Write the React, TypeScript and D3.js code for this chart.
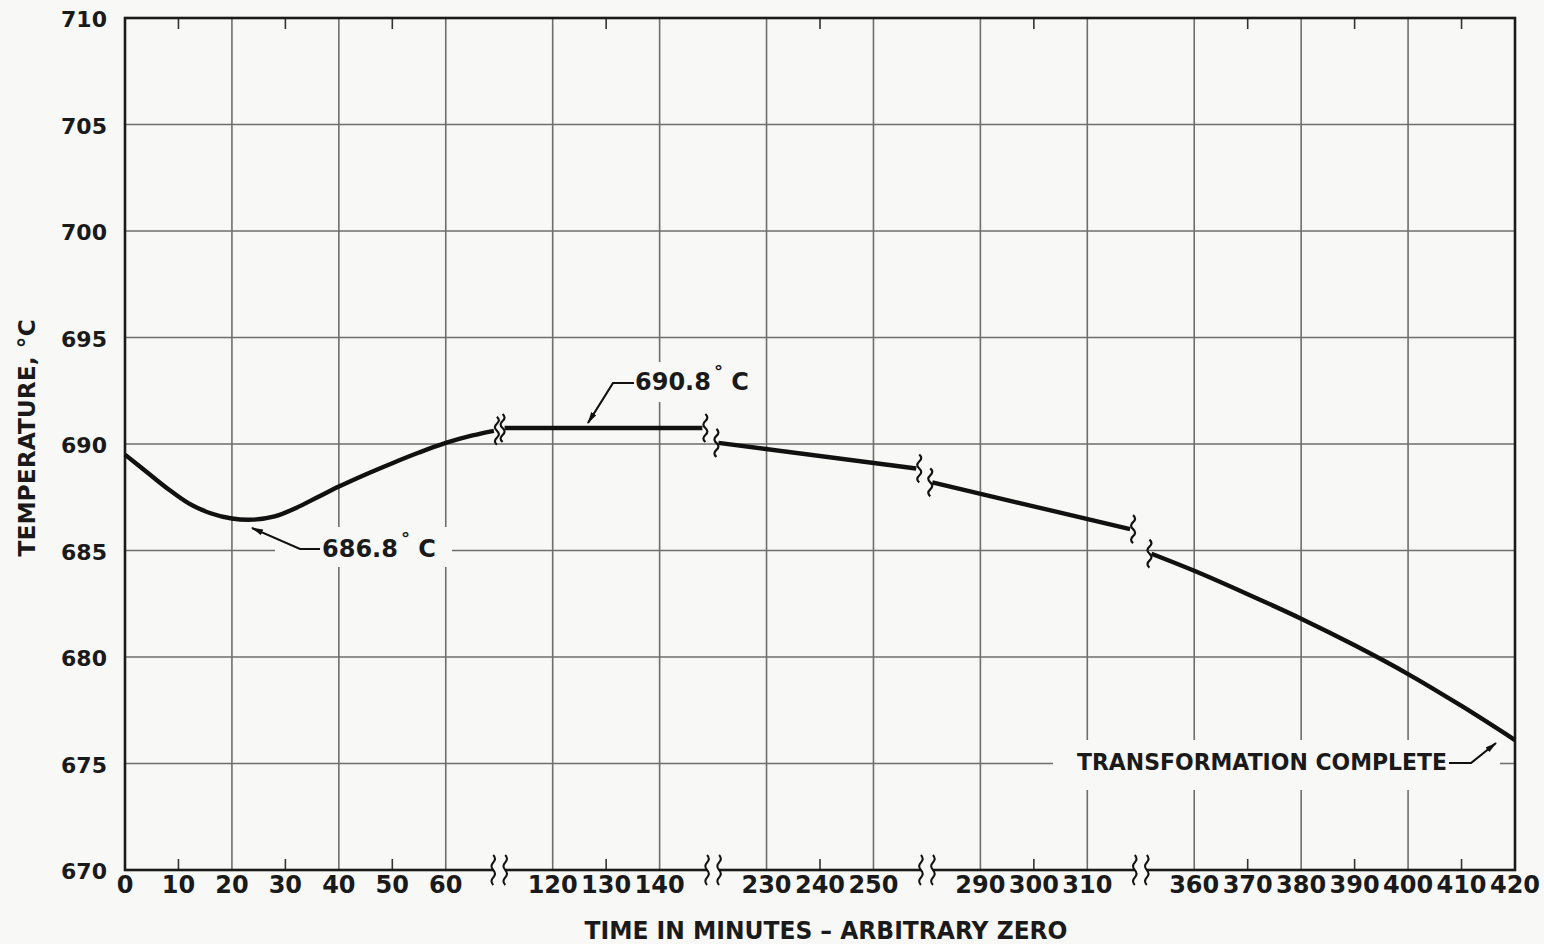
import React from 'react';
import * as d3 from 'd3';

// broken time axis: real minutes -> grid units (each unit = 10 min on the drawing)
const breakDomain = [0, 70, 110, 150, 220, 260, 280, 320, 350, 420];
const breakUnits = [0, 7, 7, 11, 11, 15, 15, 19, 19, 26];
const axisBreakUnits = [7, 11, 15, 19];

const xTickLabels = [0, 10, 20, 30, 40, 50, 60, 120, 130, 140, 230, 240, 250, 290, 300, 310, 360, 370, 380, 390, 400, 410, 420];
const xGridMajor = [20, 40, 60, 120, 140, 230, 250, 290, 310, 360, 380, 400];
const xGridMinor = [10, 30, 50, 130, 240, 300, 370, 390, 410];
const yTicks = [670, 675, 680, 685, 690, 695, 700, 705, 710];

// curve pieces, minutes and °C
const seg1Time = [0, 4, 8, 12, 16, 20, 24, 28, 32, 36, 40, 45, 50, 55, 60, 65, 69];
const seg1Temp = [689.5, 688.7, 687.9, 687.2, 686.75, 686.5, 686.45, 686.6, 687.0, 687.5, 688.0, 688.57, 689.1, 689.6, 690.05, 690.4, 690.62];
const seg2Time = [111, 148];
const seg2Temp = [690.75, 690.75];
const seg3Time = [221, 258];
const seg3Temp = [690.05, 688.85];
const seg4Time = [281, 318];
const seg4Temp = [688.2, 686.0];
const seg5Time = [352, 360, 370, 380, 390, 400, 410, 420];
const seg5Temp = [684.85, 684.05, 682.95, 681.8, 680.55, 679.2, 677.7, 676.1];

const segments = [
  [seg1Time, seg1Temp],
  [seg2Time, seg2Temp],
  [seg3Time, seg3Temp],
  [seg4Time, seg4Temp],
  [seg5Time, seg5Temp],
].map(([t, v]) => t.map((d, i) => ({ t: d, v: v[i] })));

const W = 1544;
const H = 944;
const left = 125, right = 1515, top = 18, bottom = 870;
const FONT = '"DejaVu Sans", Lato, sans-serif';
const BG = '#f8f8f7';
const GRID = '#6e6e6e';
const INK = '#1a1a1a';

const toUnit = d3.scaleLinear().domain(breakDomain).range(breakUnits);
const xU = d3.scaleLinear().domain([0, 26]).range([left, right]);
const x = (t: number) => xU(toUnit(t));
const y = d3.scaleLinear().domain([670, 710]).range([bottom, top]);

const wave = (cx: number, y0: number, h: number, a = 4) => {
  const q = h / 4;
  return `M${cx},${y0} q${a},${q / 2} 0,${q} t0,${q} t0,${q} t0,${q}`;
};

const line = d3.line<{ t: number; v: number }>()
  .x(d => x(d.t))
  .y(d => y(d.v))
  .curve(d3.curveCatmullRom.alpha(0.5));

export default function App() {
  return (
    <svg width={W} height={H} style={{ position: 'absolute', left: 0, top: 0, background: BG }} fontFamily={FONT}>
      <defs>
        <marker id="arr" viewBox="0 0 12 6" refX="11" refY="3" markerWidth="12" markerHeight="6" markerUnits="userSpaceOnUse" orient="auto">
          <path d="M0,0 L12,3 L0,6 Z" fill="#111" />
        </marker>
      </defs>
      <rect x={0} y={0} width={W} height={H} fill={BG} />

      {/* grid */}
      {yTicks.slice(1, -1).map(v => (
        <line key={'h' + v} x1={left} x2={right} y1={y(v)} y2={y(v)} stroke={GRID} strokeWidth={1.6} />
      ))}
      {xGridMajor.map(t => (
        <line key={'v' + t} x1={x(t)} x2={x(t)} y1={top} y2={bottom} stroke={GRID} strokeWidth={1.6} />
      ))}
      {xGridMinor.map(t => (
        <g key={'m' + t}>
          <line x1={x(t)} x2={x(t)} y1={top} y2={top + 11} stroke="#333" strokeWidth={1.6} />
          <line x1={x(t)} x2={x(t)} y1={bottom} y2={bottom - 11} stroke="#333" strokeWidth={1.6} />
        </g>
      ))}

      {/* label knock-outs */}
      <rect x={275} y={527} width={177} height={40} fill={BG} />
      <rect x={628} y={362} width={120} height={40} fill={BG} />
      <rect x={1053} y={740} width={447} height={50} fill={BG} />

      {/* frame */}
      <rect x={left} y={top} width={right - left} height={bottom - top} fill="none" stroke={INK} strokeWidth={2.6} />

      {/* axis breaks */}
      {axisBreakUnits.map(u => {
        const bx = xU(u);
        return (
          <g key={'b' + u}>
            <rect x={bx - 6} y={bottom - 4} width={12} height={8} fill={BG} />
            <path d={wave(bx - 6, bottom - 15, 30, 3.5)} fill="none" stroke="#111" strokeWidth={2} />
            <path d={wave(bx + 6, bottom - 15, 30, 3.5)} fill="none" stroke="#111" strokeWidth={2} />
          </g>
        );
      })}

      {/* curve */}
      {segments.map((seg, i) => {
        const first = seg[0];
        const last = seg[seg.length - 1];
        return (
          <g key={'s' + i}>
            <path d={line(seg) || ''} fill="none" stroke="#111" strokeWidth={4.4} strokeLinecap="butt" />
            {i > 0 && <path d={wave(x(first.t) - 2, y(first.v) - 14, 28, 4)} fill="none" stroke="#111" strokeWidth={2.2} />}
            {i < segments.length - 1 && <path d={wave(x(last.t) + 3, y(last.v) - 14, 28, 4)} fill="none" stroke="#111" strokeWidth={2.2} />}
          </g>
        );
      })}

      {/* y ticks */}
      {yTicks.map(v => (
        <text key={'yt' + v} x={107} y={y(v) + 3} dominantBaseline="middle" textAnchor="end" fontSize={22} fontWeight={700} fill={INK}>{v}</text>
      ))}
      {/* x ticks */}
      {xTickLabels.map(t => (
        <text key={'xt' + t} x={x(t)} y={893} textAnchor="middle" fontSize={24} fontWeight={700} fill={INK}>{t}</text>
      ))}

      {/* axis titles */}
      <text x={826} y={939} textAnchor="middle" fontSize={24} fontWeight={700} fill={INK} textLength={483} lengthAdjust="spacingAndGlyphs">
        TIME IN MINUTES  –  ARBITRARY ZERO
      </text>
      <text transform="translate(35,438) rotate(-90)" textAnchor="middle" fontSize={23} fontWeight={700} fill={INK} textLength={237} lengthAdjust="spacingAndGlyphs">
        TEMPERATURE,  °C
      </text>

      {/* annotations */}
      <polyline points="320,549 300,549 252,528" fill="none" stroke="#111" strokeWidth={2.2} markerEnd="url(#arr)" />
      <text x={322} y={557} fontSize={24} fontWeight={700} fill={INK}>
        686.8<tspan dx={3} dy={-12} fontSize={18}>°</tspan><tspan dy={12}> C</tspan>
      </text>

      <polyline points="634,383 613,383 588,423" fill="none" stroke="#111" strokeWidth={2.2} markerEnd="url(#arr)" />
      <text x={635} y={390} fontSize={24} fontWeight={700} fill={INK}>
        690.8<tspan dx={3} dy={-12} fontSize={18}>°</tspan><tspan dy={12}> C</tspan>
      </text>

      <text x={1077} y={770} fontSize={23} fontWeight={700} fill={INK} textLength={370} lengthAdjust="spacingAndGlyphs">
        TRANSFORMATION  COMPLETE
      </text>
      <polyline points="1449,763 1471,763 1496,743" fill="none" stroke="#111" strokeWidth={2.2} markerEnd="url(#arr)" />
    </svg>
  );
}
